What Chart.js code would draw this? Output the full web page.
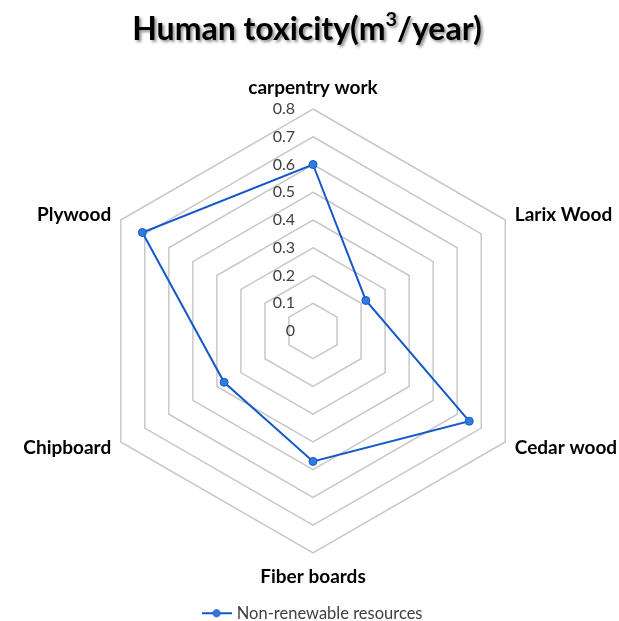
<!DOCTYPE html>
<html>
<head>
<meta charset="utf-8">
<title>Human toxicity</title>
<script src="https://cdn.jsdelivr.net/npm/chart.js@4"></script>
<style>
  body { margin: 0; background: #fff; }
  .wrap { position: relative; width: 619px; height: 621px; }
  canvas { position: absolute; left: 0; top: 0; }
  h1 {
    position: absolute; top: 8px; left: 0; width: 614px; margin: 0;
    text-align: center; color: #000;
    font: bold 32px/40px Lato, sans-serif;
    text-shadow: 2px 2px 3px rgba(0, 0, 0, 0.45);
  }
  h1 sup { font-size: 0.62em; line-height: 0; vertical-align: 0.72em; }
</style>
</head>
<body>
<div class="wrap">
  <canvas id="radarChart" width="619" height="621"></canvas>
  <h1>Human toxicity(m<sup>3</sup>/year)</h1>
</div>
<script>
const categories = ['carpentry work', 'Larix Wood', 'Cedar wood', 'Fiber boards', 'Chipboard', 'Plywood'];
const nonRenewable = [0.6, 0.22, 0.65, 0.47, 0.37, 0.71];
const tickLabels = ['0', '0.1', '0.2', '0.3', '0.4', '0.5', '0.6', '0.7', '0.8'];
const seriesName = 'Non-renewable resources';

const lineBlue = '#1558c8';
const pointBlue = '#2f7be0';

// little line + marker picture for the legend, like the Excel one
function legendIcon() {
  const c = document.createElement('canvas');
  c.width = 30;
  c.height = 10;
  const g = c.getContext('2d');
  g.strokeStyle = lineBlue;
  g.lineWidth = 2;
  g.beginPath();
  g.moveTo(0, 5);
  g.lineTo(30, 5);
  g.stroke();
  g.beginPath();
  g.arc(15, 5, 3.5, 0, Math.PI * 2);
  g.fillStyle = pointBlue;
  g.fill();
  g.lineWidth = 1;
  g.stroke();
  return c;
}

// tick labels sit left of the vertical axis, not on it
const tickLabelPlugin = {
  id: 'tickLabels',
  afterDraw(chart) {
    const scale = chart.scales.r;
    const ctx = chart.ctx;
    ctx.save();
    ctx.font = '16px Lato';
    ctx.fillStyle = '#404040';
    ctx.textAlign = 'right';
    ctx.textBaseline = 'middle';
    tickLabels.forEach(function (t) {
      const d = scale.getDistanceFromCenterForValue(Number(t));
      ctx.fillText(t, scale.xCenter - 18, scale.yCenter - d);
    });
    ctx.restore();
  }
};

new Chart(document.getElementById('radarChart'), {
  type: 'radar',
  data: {
    labels: categories,
    datasets: [{
      label: seriesName,
      data: nonRenewable,
      borderColor: lineBlue,
      borderWidth: 2,
      backgroundColor: 'transparent',
      fill: false,
      pointRadius: 4,
      pointBackgroundColor: pointBlue,
      pointBorderColor: lineBlue,
      pointBorderWidth: 1
    }]
  },
  options: {
    responsive: false,
    devicePixelRatio: 1,
    animation: false,
    layout: { padding: { top: 87, left: 8, right: 0, bottom: 0 } },
    plugins: {
      legend: {
        position: 'bottom',
        maxHeight: 42,
        labels: {
          usePointStyle: true,
          pointStyle: legendIcon(),
          pointStyleWidth: 24,
          padding: 26,
          color: '#404040',
          font: { family: 'Lato', size: 16.5 }
        }
      },
      tooltip: { enabled: false }
    },
    scales: {
      r: {
        min: 0,
        max: 0.8,
        ticks: { display: false, stepSize: 0.1 },
        angleLines: { display: false },
        grid: { color: '#c8c8c8', lineWidth: 1.5 },
        pointLabels: {
          color: '#000',
          font: { family: 'Lato', size: 19, weight: 'bold', lineHeight: 0 },
          padding: function (ctx) {
            if (ctx.index === 0) return 21;
            if (ctx.index === 3) return 24;
            return 11;
          }
        },
        // Chart.js centres the label box, Excel centres the polygon:
        // put the centre back in the middle of the area and refit the labels
        afterFit: function (scale) {
          scale.xCenter = Math.floor((scale.left + scale.right) / 2);
          scale.fit();
        }
      }
    }
  },
  plugins: [tickLabelPlugin]
});
</script>
</body>
</html>
